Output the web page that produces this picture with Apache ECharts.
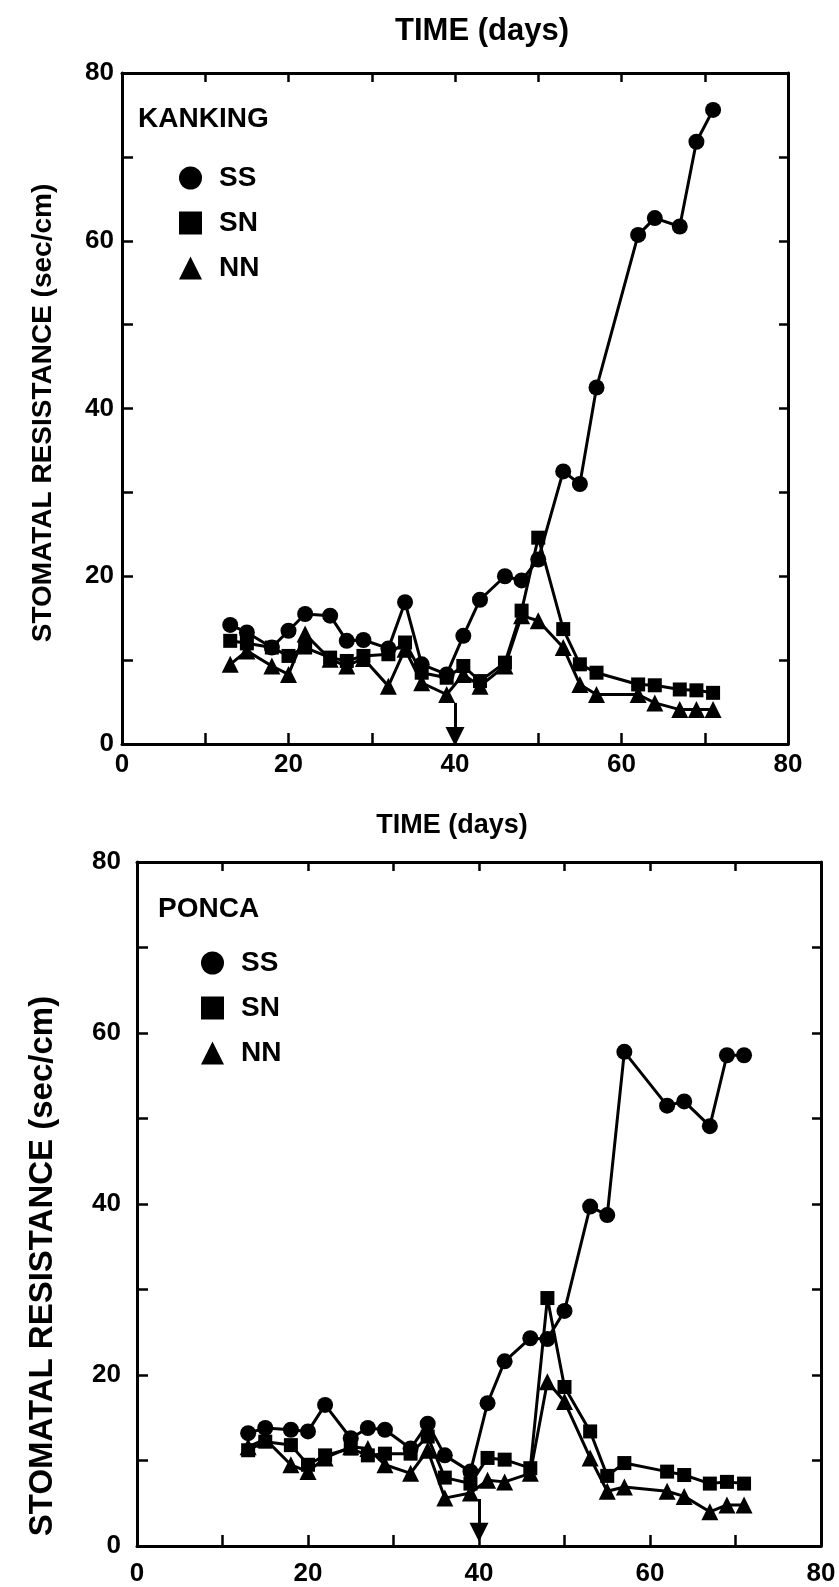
<!DOCTYPE html>
<html><head><meta charset="utf-8">
<script src="https://cdn.jsdelivr.net/npm/echarts@6/dist/echarts.min.js"></script>
<style>html,body{margin:0;padding:0;background:#fff}#c{width:839px;height:1587px}</style>
</head><body><div id="c"></div>
<script>
// ---- data ----
const days = [13,15,18,20,22,25,27,29,32,34,36,39,41,43,46,48,50,53,55,57,62,64,67,69,71];
const kankingSS = [14.2,13.3,11.5,13.5,15.5,15.3,12.3,12.4,11.4,16.9,9.5,8.3,12.9,17.2,20.0,19.5,22.0,32.5,31.0,42.5,60.7,62.7,61.7,71.8,75.6];
const kankingSN = [12.3,12.0,11.5,10.5,11.5,10.3,9.9,10.5,10.7,12.1,8.5,7.9,9.3,7.5,9.7,15.9,24.6,13.7,9.5,8.5,7.1,7.0,6.5,6.4,6.1];
const kankingNN = [9.5,11.1,9.3,8.3,13.1,10.1,9.3,10.2,6.9,11.3,7.3,5.9,8.3,6.9,9.3,15.3,14.7,11.5,7.1,5.9,5.9,4.9,4.1,4.1,4.1];
const poncaSS = [13.2,13.8,13.6,13.4,16.5,12.6,13.8,13.6,11.4,14.3,10.6,8.7,16.7,21.6,24.3,24.2,27.5,39.7,38.7,57.8,51.5,52.0,49.1,57.4,57.4];
const poncaSN = [11.2,12.2,11.8,9.5,10.6,11.4,10.6,10.8,10.8,12.8,8.0,7.3,10.3,10.1,9.1,29.0,18.6,13.4,8.2,9.7,8.7,8.3,7.3,7.5,7.3];
const poncaNN = [11.6,12.5,9.5,8.7,10.3,11.6,11.4,9.5,8.5,11.2,5.6,6.2,7.7,7.5,8.5,19.2,16.9,10.3,6.4,6.9,6.4,5.8,4.0,4.8,4.8];
const seriesNames = ['SS','SN','NN'];
const panelNames = ['KANKING','PONCA'];
const xTitle = 'TIME (days)';
const yTitle = 'STOMATAL RESISTANCE (sec/cm)';
const treatmentDay = 40;
const arrowTop = [4.9, 5.5];   // arrow start value per panel
const arrowTip = [0.9, 1.6];   // arrow tip value per panel

// ---- chart ----
const FONT = '"Liberation Sans", Arial, sans-serif';
const chart = echarts.init(document.getElementById('c'), null, {renderer:'canvas'});
const pair = arr => arr.map((v,i)=>[days[i], v]);
const symbols = {SS:['circle',16], SN:['rect',14], NN:['triangle',17]};

const grids = [
  {left:122, top:73, width:666, height:671, outerBoundsMode:'none', containLabel:false},
  {left:137, top:862, width:684, height:684, outerBoundsMode:'none', containLabel:false}
];
const labMargin = [8, 15];
const yLabMargin = [8, 16];

const xAxes = [], yAxes = [];
const lineS = {color:'#000', width:3};
grids.forEach((g, gi) => {
  xAxes.push({gridIndex:gi, type:'value', min:0, max:80, interval:10, position:'bottom',
    axisLine:{onZero:false, lineStyle:lineS},
    axisTick:{inside:true, length:11, lineStyle:{color:'#000', width:2.5}},
    axisLabel:{margin:labMargin[gi], color:'#000', fontSize:26, fontWeight:'bold', fontFamily:FONT,
      formatter:v => v % 20 === 0 ? String(v) : ''},
    splitLine:{show:false}});
  xAxes.push({gridIndex:gi, type:'value', min:0, max:80, interval:10, position:'top',
    axisLine:{onZero:false, lineStyle:lineS},
    axisTick:{inside:true, length:9, lineStyle:{color:'#000', width:2.5}},
    axisLabel:{show:false}, splitLine:{show:false}});
  yAxes.push({gridIndex:gi, type:'value', min:0, max:80, interval:10, position:'left',
    axisLine:{onZero:false, lineStyle:lineS},
    axisTick:{inside:true, length:11, lineStyle:{color:'#000', width:2.5}},
    axisLabel:{margin:yLabMargin[gi], color:'#000', fontSize:26, fontWeight:'bold', fontFamily:FONT,
      formatter:v => v % 20 === 0 ? String(v) : ''},
    splitLine:{show:false}});
  yAxes.push({gridIndex:gi, type:'value', min:0, max:80, interval:10, position:'right',
    axisLine:{onZero:false, lineStyle:lineS},
    axisTick:{inside:true, length:9, lineStyle:{color:'#000', width:2.5}},
    axisLabel:{show:false}, splitLine:{show:false}});
});

const panelData = [
  {SS:kankingSS, SN:kankingSN, NN:kankingNN},
  {SS:poncaSS, SN:poncaSN, NN:poncaNN}
];
const series = [];
panelData.forEach((pd, gi) => {
  seriesNames.forEach((nm, si) => {
    const s = {
      name:nm, type:'line', xAxisIndex:gi*2, yAxisIndex:gi*2,
      data:pair(pd[nm]), symbol:symbols[nm][0], symbolSize:symbols[nm][1],
      lineStyle:{color:'#000', width:3}, itemStyle:{color:'#000'},
      showSymbol:true, animation:false, z: 3 - si
    };
    if (si === 0) {
      s.markLine = {silent:true, animation:false, symbol:['none','triangle'], symbolSize:19,
        label:{show:false}, lineStyle:{color:'#000', width:3, type:'solid'},
        emphasis:{disabled:true},
        data:[[{coord:[treatmentDay, arrowTop[gi]], symbol:'none'}, {coord:[treatmentDay, arrowTip[gi]], symbol:'triangle', symbolSize:19, symbolRotate:180}]]};
    }
    series.push(s);
  });
});

const legendCommon = {
  orient:'vertical', itemWidth:23, itemHeight:23, itemGap:15,
  selectedMode:false,
  textStyle:{color:'#000', fontSize:28, fontWeight:'bold', fontFamily:FONT, padding:[0,0,0,12], lineHeight:30},
  data:[{name:'SS', icon:'circle'},{name:'SN', icon:'rect'},{name:'NN', icon:'triangle'}],
  itemStyle:{color:'#000'}
};

chart.setOption({
  backgroundColor:'#fff',
  animation:false,
  grid:grids,
  xAxis:xAxes,
  yAxis:yAxes,
  series:series,
  legend:[
    Object.assign({left:174, top:158}, legendCommon),
    Object.assign({left:196, top:943, itemGap:14}, legendCommon)
  ],
  graphic:[
    {type:'text', x:482, y:31, style:{text:xTitle, fill:'#000', font:'bold 31px '+FONT, align:'center', verticalAlign:'middle'}},
    {type:'text', x:452, y:826, style:{text:xTitle, fill:'#000', font:'bold 27px '+FONT, align:'center', verticalAlign:'middle'}},
    {type:'text', x:43, y:413, rotation:Math.PI/2, style:{text:yTitle, fill:'#000', font:'bold 28px '+FONT, align:'center', verticalAlign:'middle'}},
    {type:'text', x:43, y:1266, rotation:Math.PI/2, style:{text:yTitle, fill:'#000', font:'bold 33px '+FONT, align:'center', verticalAlign:'middle'}},
    {type:'text', x:138, y:119, style:{text:panelNames[0], fill:'#000', font:'bold 28px '+FONT, align:'left', verticalAlign:'middle'}},
    {type:'text', x:158, y:909, style:{text:panelNames[1], fill:'#000', font:'bold 28px '+FONT, align:'left', verticalAlign:'middle'}}
  ]
});
</script>
</body></html>
